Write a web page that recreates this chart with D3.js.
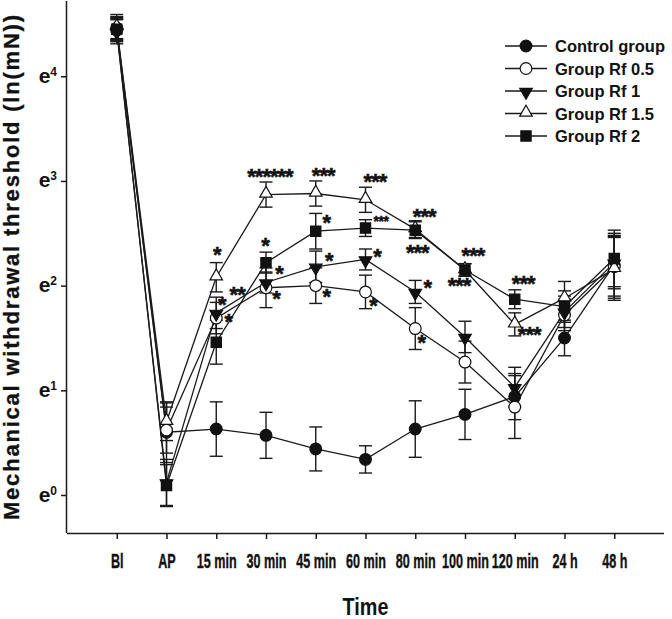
<!DOCTYPE html>
<html><head><meta charset="utf-8">
<script src="https://cdn.jsdelivr.net/npm/d3@7"></script>
<style>
html,body{margin:0;padding:0;background:#fff;}
svg{display:block;font-family:"Liberation Sans",Arial,Helvetica,sans-serif;}
</style></head>
<body>
<svg id="chart" width="672" height="619"></svg>
<script>
// ---------- data (values in ln(mN)) ----------
const categories = ["Bl","AP","15 min","30 min","45 min","60 min","80 min","100 min","120 min","24 h","48 h"];
const seriesNames = ["Control group","Group Rf 0.5","Group Rf 1","Group Rf 1.5","Group Rf 2"];

const controlMean = [4.44, 0.60, 0.63, 0.57, 0.44, 0.34, 0.63, 0.77, 0.94, 1.50, 2.20];
const controlErr  = [0.10, 0.29, 0.26, 0.22, 0.21, 0.13, 0.27, 0.24, 0.22, 0.17, 0.30];

const rf05Mean = [4.46, 0.62, 1.69, 1.98, 2.00, 1.94, 1.59, 1.27, 0.84, 1.72, 2.18];
const rf05Err  = [0.10, 0.22, 0.15, 0.19, 0.17, 0.16, 0.20, 0.20, 0.30, 0.15, 0.30];

const rf1Mean = [4.43, 0.12, 1.74, 2.03, 2.18, 2.25, 1.94, 1.51, 1.03, 1.75, 2.22];
const rf1Err  = [0.12, 0.22, 0.15, 0.10, 0.15, 0.10, 0.11, 0.15, 0.19, 0.15, 0.25];

const rf15Mean = [4.47, 0.70, 2.08, 2.87, 2.88, 2.82, 2.54, 2.15, 1.63, 1.88, 2.16];
const rf15Err  = [0.12, 0.18, 0.14, 0.12, 0.12, 0.12, 0.08, 0.06, 0.11, 0.16, 0.30];

const rf2Mean = [4.45, 0.09, 1.46, 2.22, 2.52, 2.55, 2.53, 2.15, 1.87, 1.80, 2.26];
const rf2Err  = [0.12, 0.20, 0.21, 0.10, 0.17, 0.08, 0.08, 0.06, 0.09, 0.15, 0.27];

const yTickValues = [0, 1, 2, 3, 4];

// significance marks: [category index (fractional), ln value, text, small?]
const annotations = [
  [2.01, 2.29, "*", 0], [2.11, 1.82, "*", 0], [2.42, 1.91, "**", 0], [2.24, 1.65, "*", 0],
  [3.08, 3.04, "******", 0], [2.98, 2.38, "*", 0], [3.26, 2.11, "*", 0], [3.20, 1.87, "*", 0],
  [4.15, 3.05, "***", 0], [4.21, 2.60, "*", 0], [4.26, 2.24, "*", 0], [4.21, 1.89, "*", 0],
  [5.19, 2.99, "***", 0], [5.31, 2.61, "***", 1], [5.23, 2.27, "*", 0], [5.15, 1.81, "*", 0],
  [6.18, 2.66, "***", 0], [6.04, 2.31, "***", 0], [6.24, 1.98, "*", 0], [6.12, 1.45, "*", 0],
  [7.16, 2.28, "***", 0], [6.88, 2.00, "***", 0],
  [8.17, 2.02, "***", 0], [8.29, 1.53, "***", 0]
];

const series = [
  {name: seriesNames[0], mean: controlMean, err: controlErr, shape: "circle",  filled: true},
  {name: seriesNames[1], mean: rf05Mean,    err: rf05Err,    shape: "circle",  filled: false},
  {name: seriesNames[2], mean: rf1Mean,     err: rf1Err,     shape: "tridown", filled: true},
  {name: seriesNames[3], mean: rf15Mean,    err: rf15Err,    shape: "triup",   filled: false},
  {name: seriesNames[4], mean: rf2Mean,     err: rf2Err,     shape: "square",  filled: true}
];

// ---------- layout ----------
const svg = d3.select("#chart");
const pLeft = 67, pRight = 664, pTop = 1, pBottom = 533;
const ink = "#1a1a1a";

const x = d3.scalePoint().domain(categories).range([pLeft, pRight]).padding(1);
const y = d3.scaleLinear().domain([-0.363, 4.70]).range([pBottom, 3]);
const xi = d3.scaleLinear().domain([0, categories.length - 1])
  .range([x(categories[0]), x(categories[categories.length - 1])]);

function symbolPath(shape) {
  if (shape === "circle") return d3.symbol(d3.symbolCircle, 108)();
  if (shape === "square") return d3.symbol(d3.symbolSquare, 105)();
  return d3.symbol(d3.symbolTriangle, 68)();
}
function symbolTransform(shape, px, py) {
  if (shape === "tridown") return `translate(${px},${py + 1}) rotate(180)`;
  if (shape === "triup") return `translate(${px},${py - 1})`;
  return `translate(${px},${py})`;
}

// ---------- axes ----------
const xAxis = svg.append("g").attr("transform", `translate(0,${pBottom})`)
  .call(d3.axisBottom(x).tickSize(6).tickSizeOuter(0));
xAxis.select(".domain").attr("stroke", ink).attr("stroke-width", 1.5)
  .attr("d", `M${pLeft},0.5H${pRight}`);
xAxis.selectAll(".tick line").attr("stroke", ink).attr("stroke-width", 1.5);
xAxis.selectAll(".tick text")
  .attr("y", 35).attr("dy", null)
  .attr("fill", "#111").attr("stroke", "#111").attr("stroke-width", 0.4)
  .attr("font-size", 21).attr("font-weight", "bold")
  .attr("transform", "scale(0.6,1)");

const yAxis = svg.append("g").attr("transform", `translate(${pLeft},0)`)
  .call(d3.axisLeft(y).tickValues(yTickValues).tickSize(6).tickSizeOuter(0).tickFormat(""));
yAxis.select(".domain").attr("stroke", ink).attr("stroke-width", 1.5)
  .attr("d", `M-0.5,${pTop}V${pBottom}`);
yAxis.selectAll(".tick line").attr("stroke", ink).attr("stroke-width", 1.5);
yAxis.selectAll(".tick").each(function(d) {
  const t = d3.select(this).append("text")
    .attr("x", -10).attr("y", 6).attr("text-anchor", "end")
    .attr("fill", "#111").attr("font-weight", "bold").attr("font-size", 21);
  t.append("tspan").text("e");
  t.append("tspan").attr("font-size", 12).attr("dy", -7).text(d);
});

// axis titles
svg.append("text")
  .attr("transform", `translate(365.5,615) scale(0.86,1)`)
  .attr("text-anchor", "middle").attr("font-weight", "bold").attr("font-size", 23)
  .attr("fill", "#111").text("Time");

svg.append("text")
  .attr("transform", "translate(19,520) rotate(-90)")
  .attr("x", 0).attr("y", 0)
  .attr("font-weight", "bold").attr("font-size", 22).attr("fill", "#111")
  .attr("stroke", "#111").attr("stroke-width", 0.3)
  .attr("textLength", 505).attr("lengthAdjust", "spacing")
  .text("Mechanical withdrawal threshold (ln(mN))");

// ---------- lines ----------
const line = d3.line().x((d, i) => x(categories[i])).y(d => y(d));
series.forEach(s => {
  svg.append("path").attr("d", line(s.mean)).attr("fill", "none")
    .attr("stroke", ink).attr("stroke-width", 1.3);
});

// ---------- error bars ----------
const capW = 6.5;
series.forEach(s => {
  const g = svg.append("g").attr("stroke", ink).attr("stroke-width", 1.4);
  s.mean.forEach((m, i) => {
    const px = x(categories[i]);
    const y1 = y(m + s.err[i]), y2 = y(m - s.err[i]);
    g.append("line").attr("x1", px).attr("x2", px).attr("y1", y1).attr("y2", y2);
    g.append("line").attr("x1", px - capW).attr("x2", px + capW).attr("y1", y1).attr("y2", y1);
    g.append("line").attr("x1", px - capW).attr("x2", px + capW).attr("y1", y2).attr("y2", y2);
  });
});

// ---------- markers ----------
series.forEach(s => {
  svg.append("g").selectAll("path").data(s.mean).join("path")
    .attr("d", symbolPath(s.shape))
    .attr("transform", (d, i) => symbolTransform(s.shape, x(categories[i]), y(d)))
    .attr("fill", s.filled ? "#111" : "#fff")
    .attr("stroke", "#111").attr("stroke-width", 1.2);
});

// ---------- significance marks ----------
annotations.forEach(a => {
  const fs = a[3] ? 14 : 22;
  svg.append("text")
    .attr("x", xi(a[0])).attr("y", y(a[1]) + 0.32 * fs)
    .attr("text-anchor", "middle").attr("font-weight", "bold")
    .attr("font-size", fs).attr("letter-spacing", a[3] ? -0.5 : -1)
    .attr("fill", "#111").attr("stroke", "#111").attr("stroke-width", 0.5)
    .text(a[2]);
});

// ---------- legend ----------
const legend = svg.append("g");
series.forEach((s, i) => {
  const cy = 46 + i * 22.5;
  legend.append("line").attr("x1", 505).attr("x2", 547).attr("y1", cy).attr("y2", cy)
    .attr("stroke", ink).attr("stroke-width", 1.5);
  legend.append("path").attr("d", symbolPath(s.shape))
    .attr("transform", symbolTransform(s.shape, 526, cy))
    .attr("fill", s.filled ? "#111" : "#fff").attr("stroke", "#111").attr("stroke-width", 1.2);
  legend.append("text")
    .attr("x", 555).attr("y", cy + 6)
    .attr("font-weight", "bold").attr("font-size", 16.5).attr("fill", "#111")
    .text(s.name);
});
</script>
</body></html>
